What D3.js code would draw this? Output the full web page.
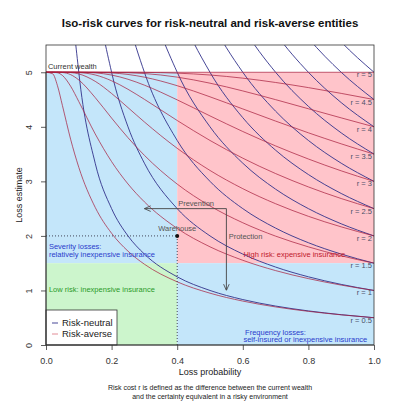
<!DOCTYPE html>
<html>
<head>
<meta charset="utf-8">
<script src="https://cdn.jsdelivr.net/npm/d3@7"></script>
<style>
  body { margin: 0; background: #fff; }
  svg { display: block; font-family: "Liberation Sans", Arial, sans-serif; }
</style>
</head>
<body>
<div id="chart"></div>
<script>
var wealth = 5;
var probSplit = 0.4;
var lossSplit = 1.5;
var rLevels = [0.5, 1, 1.5, 2, 2.5, 3, 3.5, 4, 4.5, 5];
var xTicks = [0, 0.2, 0.4, 0.6, 0.8, 1];
var yTicks = [0, 1, 2, 3, 4, 5];
var pGrid = [0, 0.02, 0.035, 0.05, 0.075, 0.1, 0.15, 0.2, 0.25, 0.3, 0.4, 0.5, 0.6, 0.7, 0.8, 0.9, 1];

// loss estimate on pGrid, one row per r level (risk-neutral)
var neutralLoss = [
  [null, null, null, 10, 6.667, 5, 3.333, 2.5, 2, 1.667, 1.25, 1, 0.833, 0.714, 0.625, 0.556, 0.5],
  [null, null, null, null, 13.33, 10, 6.667, 5, 4, 3.333, 2.5, 2, 1.667, 1.429, 1.25, 1.111, 1],
  [null, null, null, null, null, 15, 10, 7.5, 6, 5, 3.75, 3, 2.5, 2.143, 1.875, 1.667, 1.5],
  [null, null, null, null, null, null, 13.33, 10, 8, 6.667, 5, 4, 3.333, 2.857, 2.5, 2.222, 2],
  [null, null, null, null, null, null, null, 12.5, 10, 8.333, 6.25, 5, 4.167, 3.571, 3.125, 2.778, 2.5],
  [null, null, null, null, null, null, null, null, 12, 10, 7.5, 6, 5, 4.286, 3.75, 3.333, 3],
  [null, null, null, null, null, null, null, null, null, 11.67, 8.75, 7, 5.833, 5, 4.375, 3.889, 3.5],
  [null, null, null, null, null, null, null, null, null, null, 10, 8, 6.667, 5.714, 5, 4.444, 4],
  [null, null, null, null, null, null, null, null, null, null, 11.25, 9, 7.5, 6.429, 5.625, 5, 4.5],
  [null, null, null, null, null, null, null, null, null, null, 12.5, 10, 8.333, 7.143, 6.25, 5.556, 5]
];

// loss estimate on pGrid, one row per r level (risk-averse)
var averseLoss = [
  [5, 4.974, 4.753, 4.392, 3.773, 3.257, 2.523, 2.048, 1.72, 1.481, 1.158, 0.95, 0.805, 0.698, 0.617, 0.553, 0.5],
  [5, 5, 4.991, 4.942, 4.745, 4.463, 3.87, 3.362, 2.952, 2.624, 2.138, 1.8, 1.553, 1.364, 1.217, 1.098, 1],
  [5, 5, 5, 4.996, 4.957, 4.859, 4.536, 4.16, 3.8, 3.477, 2.95, 2.55, 2.241, 1.996, 1.799, 1.636, 1.5],
  [5, 5, 5, 5, 4.995, 4.97, 4.834, 4.611, 4.352, 4.089, 3.606, 3.2, 2.866, 2.59, 2.359, 2.166, 2],
  [5, 5, 5, 5, 5, 4.995, 4.951, 4.844, 4.688, 4.504, 4.116, 3.75, 3.425, 3.143, 2.898, 2.685, 2.5],
  [5, 5, 5, 5, 5, 5, 4.989, 4.949, 4.872, 4.764, 4.494, 4.2, 3.914, 3.65, 3.41, 3.193, 3],
  [5, 5, 5, 5, 5, 5, 4.998, 4.988, 4.96, 4.91, 4.754, 4.55, 4.328, 4.105, 3.89, 3.688, 3.5],
  [5, 5, 5, 5, 5, 5, 5, 4.998, 4.992, 4.977, 4.911, 4.8, 4.658, 4.498, 4.331, 4.164, 4],
  [5, 5, 5, 5, 5, 5, 5, 5, 5, 4.998, 4.984, 4.95, 4.892, 4.813, 4.719, 4.613, 4.5],
  [5, 5, 5, 5, 5, 5, 5, 5, 5, 5, 5, 5, 5, 5, 5, 5, 5]
];

var warehouse = {p: 0.4, loss: 2};
var prevention = {p0: 0.55, p1: 0.3, loss: 2.5};
var protection = {p: 0.55, loss0: 2.5, loss1: 1};

var margin = {top: 45, right: 26, bottom: 58, left: 46},
    width = 400 - margin.left - margin.right,
    height = 403 - margin.top - margin.bottom;

var svg = d3.select("#chart")
  .append("svg")
    .attr("width", 400)
    .attr("height", 403);

var g = svg.append("g")
    .attr("transform", "translate(" + margin.left + "," + margin.top + ")");

var x = d3.scaleLinear().domain([0, 1]).range([0, width]);
var y = d3.scaleLinear().domain([0, 5.5]).range([height, 0]);

var blueBg = "#c4e6fa", pinkBg = "#ffc4ca", greenBg = "#ccf5cc";
var neutralColor = "#33338c", averseColor = "#a8203e";

var regions = [
  {x0: 0, x1: probSplit, y0: lossSplit, y1: wealth, fill: blueBg},
  {x0: probSplit, x1: 1, y0: lossSplit, y1: wealth, fill: pinkBg},
  {x0: 0, x1: probSplit, y0: 0, y1: lossSplit, fill: greenBg},
  {x0: probSplit, x1: 1, y0: 0, y1: lossSplit, fill: blueBg}
];

g.selectAll("rect.region")
  .data(regions)
  .enter()
  .append("rect")
    .attr("class", "region")
    .attr("x", function(d) { return x(d.x0); })
    .attr("y", function(d) { return y(d.y1); })
    .attr("width", function(d) { return x(d.x1) - x(d.x0); })
    .attr("height", function(d) { return y(d.y0) - y(d.y1); })
    .attr("fill", function(d) { return d.fill; });

g.append("clipPath").attr("id", "clip")
  .append("rect").attr("width", width).attr("height", height);

var line = d3.line()
  .defined(function(d) { return d[1] != null; })
  .x(function(d) { return x(d[0]); })
  .y(function(d) { return y(d[1]); })
  .curve(d3.curveMonotoneX);

function toPoints(row) {
  return row.map(function(v, i) { return [pGrid[i], v]; });
}

var curves = g.append("g").attr("clip-path", "url(#clip)");

curves.selectAll("path.neutral")
  .data(neutralLoss)
  .enter()
  .append("path")
    .attr("class", "neutral")
    .attr("d", function(d) { return line(toPoints(d)); })
    .attr("fill", "none")
    .attr("stroke", neutralColor)
    .attr("stroke-opacity", 0.9)
    .attr("stroke-width", 1);

curves.selectAll("path.averse")
  .data(averseLoss)
  .enter()
  .append("path")
    .attr("class", "averse")
    .attr("d", function(d) { return line(toPoints(d)); })
    .attr("fill", "none")
    .attr("stroke", averseColor)
    .attr("stroke-opacity", 0.72)
    .attr("stroke-width", 1);

// dotted guides to the warehouse point
g.append("line")
  .attr("x1", x(0)).attr("x2", x(warehouse.p))
  .attr("y1", y(warehouse.loss)).attr("y2", y(warehouse.loss))
  .attr("stroke", "#334").attr("stroke-width", 0.9).attr("stroke-dasharray", "1,2");
g.append("line")
  .attr("x1", x(warehouse.p)).attr("x2", x(warehouse.p))
  .attr("y1", y(0)).attr("y2", y(warehouse.loss))
  .attr("stroke", "#334").attr("stroke-width", 0.9).attr("stroke-dasharray", "1,2");

g.append("circle")
  .attr("cx", x(warehouse.p)).attr("cy", y(warehouse.loss))
  .attr("r", 2).attr("fill", "#111");

// arrows
svg.append("defs").append("marker")
    .attr("id", "head")
    .attr("markerUnits", "userSpaceOnUse")
    .attr("viewBox", "0 0 10 10")
    .attr("refX", 10).attr("refY", 5)
    .attr("markerWidth", 7).attr("markerHeight", 7)
    .attr("orient", "auto")
  .append("path")
    .attr("d", "M1,1 L10,5 L1,9")
    .attr("fill", "none")
    .attr("stroke", "#444")
    .attr("stroke-width", 1.2);

g.append("line")
  .attr("x1", x(prevention.p0)).attr("x2", x(prevention.p1))
  .attr("y1", y(prevention.loss)).attr("y2", y(prevention.loss))
  .attr("stroke", "#444").attr("stroke-width", 0.9)
  .attr("marker-end", "url(#head)");
g.append("line")
  .attr("x1", x(protection.p)).attr("x2", x(protection.p))
  .attr("y1", y(protection.loss0)).attr("y2", y(protection.loss1))
  .attr("stroke", "#444").attr("stroke-width", 0.9)
  .attr("marker-end", "url(#head)");

// annotations
function note(px, py, str, color, anchor, dy) {
  g.append("text")
    .attr("x", x(px)).attr("y", y(py) + (dy || 0))
    .attr("text-anchor", anchor || "start")
    .attr("dominant-baseline", "middle")
    .attr("font-size", "7.5px")
    .attr("fill", color)
    .text(str);
}

note(0.006, wealth, "Current wealth", "#333", "start", -5);
note(warehouse.p, warehouse.loss, "Warehouse", "#555", "middle", -7);
note(0.403, prevention.loss, "Prevention", "#555", "start", -5);
note(0.557, 2, "Protection", "#555", "start", 1);
note(0.009, 2, "Severity losses:", "#2a3ccc", "start", 11);
note(0.009, 2, "relatively inexpensive insurance", "#2a3ccc", "start", 19);
note(0.602, 2, "High risk: expensive insurance", "#c0182c", "start", 19.5);
note(0.009, 1, "Low risk: inexpensive insurance", "#2a9a2a", "start", 0);
note(0.607, 0, "Frequency losses:", "#2a3ccc", "start", -12);
note(0.602, 0, "self-insured or inexpensive insurance", "#2a3ccc", "start", -4.5);

g.selectAll("text.rlab")
  .data(rLevels)
  .enter()
  .append("text")
    .attr("class", "rlab")
    .attr("x", x(1) - 2)
    .attr("y", function(d) { return y(d) + 3; })
    .attr("text-anchor", "end")
    .attr("dominant-baseline", "middle")
    .attr("font-size", "7.5px")
    .attr("fill", "#4a5068")
    .text(function(d) { return "r = " + d; });

// legend
var legend = g.append("g")
  .attr("transform", "translate(0," + (height - 35) + ")");
legend.append("rect")
  .attr("width", 71).attr("height", 35)
  .attr("fill", "#fff").attr("stroke", "#333").attr("stroke-width", 0.8);
var legendItems = [
  {label: "Risk-neutral", color: neutralColor, op: 0.9},
  {label: "Risk-averse", color: "#d04050", op: 0.6}
];
legendItems.forEach(function(d, i) {
  legend.append("line")
    .attr("x1", 6).attr("x2", 12)
    .attr("y1", 13 + i * 11).attr("y2", 13 + i * 11)
    .attr("stroke", d.color).attr("stroke-opacity", d.op).attr("stroke-width", 1);
  legend.append("text")
    .attr("x", 16).attr("y", 13 + i * 11)
    .attr("dominant-baseline", "middle")
    .attr("font-size", "9.5px")
    .attr("fill", "#222")
    .text(d.label);
});

// box and axes
g.append("rect")
  .attr("width", width).attr("height", height)
  .attr("fill", "none").attr("stroke", "#333").attr("stroke-width", 0.8);

var xAxis = g.append("g")
  .attr("transform", "translate(0," + height + ")")
  .call(d3.axisBottom(x).tickValues(xTicks).tickFormat(d3.format(".1f")).tickSize(5).tickSizeOuter(0));
var yAxis = g.append("g")
  .call(d3.axisLeft(y).tickValues(yTicks).tickFormat(d3.format("d")).tickSize(5).tickSizeOuter(0));

[xAxis, yAxis].forEach(function(a) {
  a.select(".domain").remove();
  a.selectAll("line").attr("stroke", "#333").attr("stroke-width", 0.8);
  a.selectAll("text").attr("fill", "#333").attr("font-size", "9px")
    .attr("font-family", "Liberation Sans, Arial, sans-serif");
});
xAxis.append("line").attr("x1", x(0)).attr("x2", x(1)).attr("stroke", "#333").attr("stroke-width", 0.8);
yAxis.append("line").attr("y1", y(0)).attr("y2", y(5)).attr("stroke", "#333").attr("stroke-width", 0.8);
xAxis.selectAll(".tick text").attr("dy", null).attr("y", 17)
  .attr("dominant-baseline", "middle");
yAxis.selectAll(".tick text")
  .attr("x", null).attr("dy", null)
  .attr("text-anchor", "middle")
  .attr("transform", "translate(-16,0) rotate(-90)")
  .attr("dominant-baseline", "middle");

// titles
svg.append("text")
  .attr("x", 210).attr("y", 24)
  .attr("text-anchor", "middle").attr("dominant-baseline", "middle")
  .attr("font-size", "11.5px").attr("font-weight", "bold").attr("fill", "#111")
  .text("Iso-risk curves for risk-neutral and risk-averse entities");

svg.append("text")
  .attr("x", 210).attr("y", 373)
  .attr("text-anchor", "middle").attr("dominant-baseline", "middle")
  .attr("font-size", "9px").attr("fill", "#222")
  .text("Loss probability");

svg.append("text")
  .attr("transform", "translate(20,195) rotate(-90)")
  .attr("text-anchor", "middle").attr("dominant-baseline", "middle")
  .attr("font-size", "9px").attr("fill", "#222")
  .text("Loss estimate");

svg.append("text")
  .attr("x", 210).attr("y", 388)
  .attr("text-anchor", "middle").attr("dominant-baseline", "middle")
  .attr("font-size", "7px").attr("fill", "#222")
  .text("Risk cost r is defined as the difference between the current wealth");
svg.append("text")
  .attr("x", 210).attr("y", 397)
  .attr("text-anchor", "middle").attr("dominant-baseline", "middle")
  .attr("font-size", "7px").attr("fill", "#222")
  .text("and the certainty equivalent in a risky environment");
</script>
</body>
</html>
